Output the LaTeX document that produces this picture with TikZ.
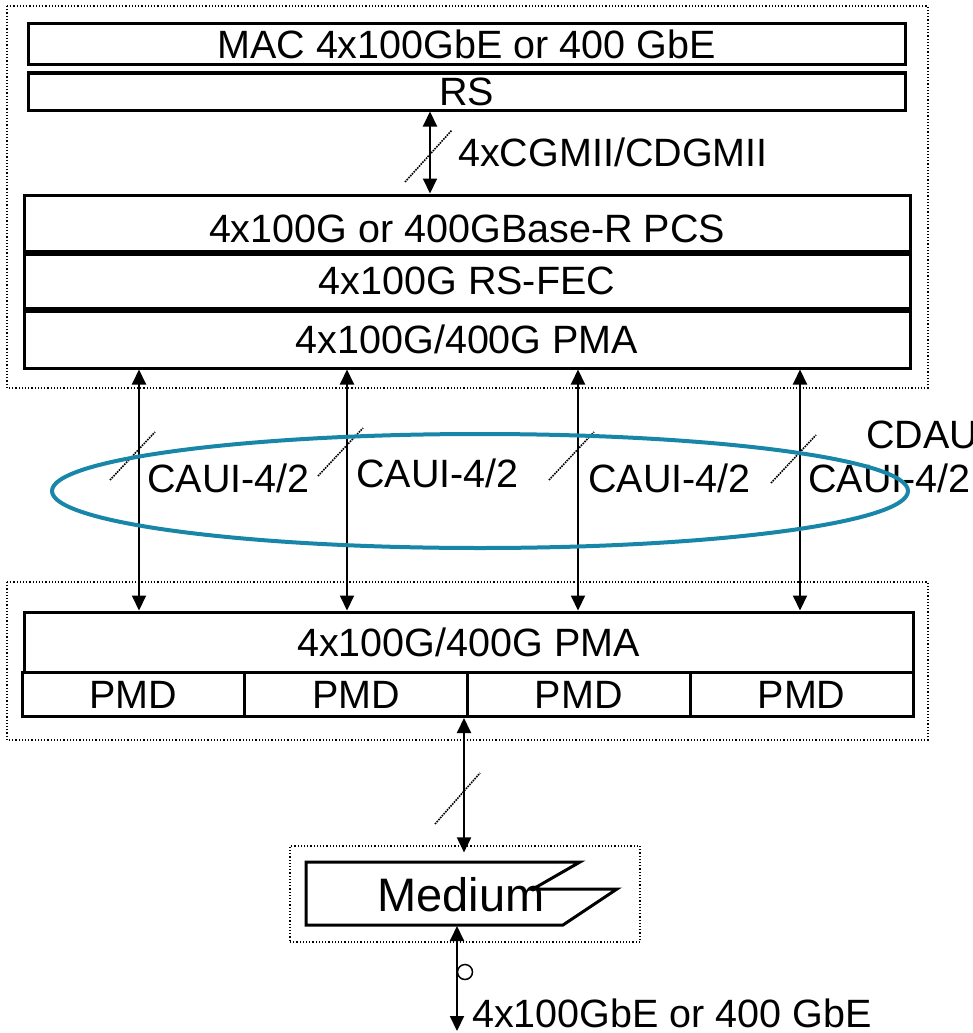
\documentclass[tikz,border=0pt]{standalone}
\usepackage{fontspec}
\setmainfont{Liberation Sans}
\usetikzlibrary{arrows.meta,positioning,calc}
\definecolor{busteal}{RGB}{24,134,168}

\begin{document}
\begin{tikzpicture}[
  x=1pt,y=-1pt,
  font=\fontsize{39.5}{40}\selectfont,
  box/.style={draw,line width=3pt,inner sep=0pt,minimum width=886,minimum height=55},
  pmdbox/.style={box,minimum width=222.75,minimum height=44},
  grp/.style={draw,dotted,line width=1.2pt},
  arr/.style={{Triangle[length=15pt,width=14pt]}-{Triangle[length=15pt,width=14pt]},line width=2pt},
  slash/.style={densely dotted,line width=1.6pt},
  lbl/.style={anchor=west,inner sep=0pt}
]
\useasboundingbox (0,0) rectangle (973,1033);

% upper sublayers
\draw[grp] (7,6) rectangle (928,388);
\node[box,minimum width=877,minimum height=41] (mac) at (466.5,44.5) {MAC 4x100GbE or 400 GbE};
\node[box,minimum width=877,minimum height=37] (rs) at (466.5,91.5) {RS};
\node[box,minimum height=56,text height=38pt,text depth=0pt] (pcs) at (467,223) {4x100G or 400GBase-R PCS};
\node[box,below=0pt of pcs,minimum height=54] (fec) {4x100G RS-FEC};
\node[box,below=0pt of fec,minimum height=57] (pmaA) {4x100G/400G PMA};

\draw[arr] (rs.south -| 430,0) -- (pcs.north -| 430,0);
\draw[slash] (405,182) -- (452,130);
\node[lbl] (cgmii) at (458,152) {4xCGMII/CDGMII};

% lower sublayers
\draw[grp] (7,582) rectangle (928,740);
\node[box,minimum width=889,minimum height=60] (pmaB) at (468.5,642) {4x100G/400G PMA};
\foreach \i in {0,...,3}
  \node[pmdbox] (pmd\i) at ({22+222.75*(\i+0.5)},694.5) {PMD};

% attachment unit interfaces
\foreach \x/\y in {139/449,347/445,578/449,800/452} {
  \draw[arr] (pmaA.south -| \x,0) -- (pmaB.north -| \x,0);
  \draw[slash] ([shift={(-29,31)}]\x,\y) -- ++(45,-48);
}
\node[lbl] (caui1) at (147,478) {CAUI-4/2};
\node[lbl] (caui2) at (356,473) {CAUI-4/2};
\node[lbl] (caui3) at (588,478) {CAUI-4/2};
\node[lbl] (caui4) at (808,478) {CAUI-4/2};
\node[lbl] (cdaui) at (866,435) {CDAU};
\draw[busteal,line width=4pt] (480,491) ellipse [x radius=428,y radius=57];

% medium
\node[grp,minimum width=350,minimum height=96,inner sep=0pt] (medgrp) at (465,894) {};
\draw[line width=3pt,line join=miter] (306,862) -- (580,862) -- (533,889) -- (617,889)
  -- (563,925) -- (306,925) -- cycle;
\fill (533,889) circle (2.5);
\node[font=\fontsize{47}{48}\selectfont,inner sep=0pt] (medium) at (461,895) {Medium};
\draw[arr] (pmd1.south east -| 464,0) -- ([yshift=-7pt]medgrp.north -| 464,0);
\draw[slash] (435,824) -- (480,773);

\coordinate (medbot) at (457,926);
\coordinate (phy) at (457,1031);
\draw[arr] (medbot) -- (phy);
\node[draw,circle,line width=1.5pt,minimum size=15,inner sep=0pt] (ring) at (465,972) {};
\node[lbl] (rate) at (472,1013) {4x100GbE or 400 GbE};
\end{tikzpicture}
\end{document}
